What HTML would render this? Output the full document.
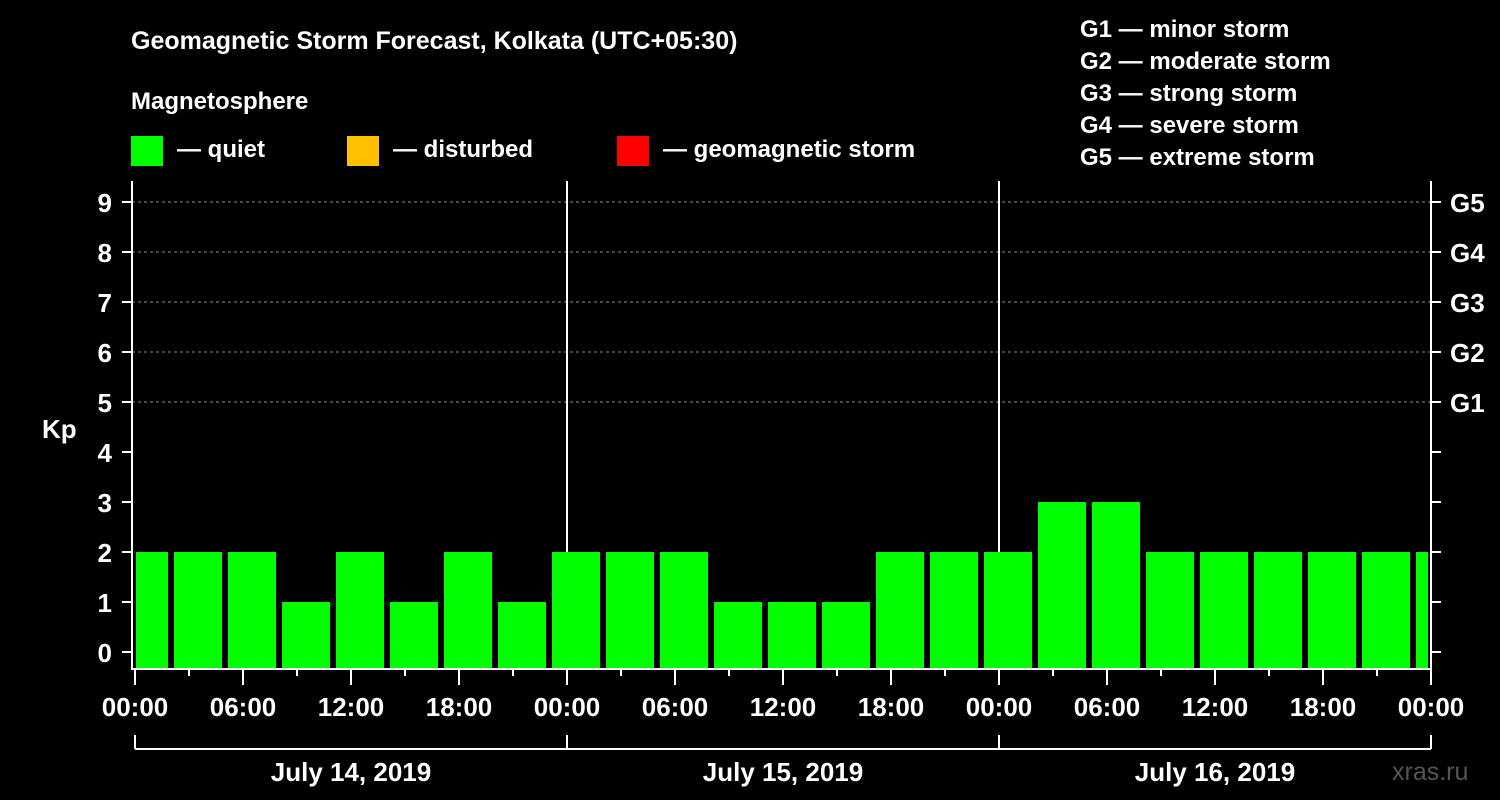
<!DOCTYPE html>
<html><head><meta charset="utf-8"><style>
body{margin:0;background:#000;}
svg{display:block;font-family:"Liberation Sans",Arial,sans-serif;font-weight:bold;}
</style></head><body>
<svg id="chart" width="1500" height="800" viewBox="0 0 1500 800">
<rect width="1500" height="800" fill="#000"/>
<text x="131" y="49" fill="#fff" font-size="25">Geomagnetic Storm Forecast, Kolkata (UTC+05:30)</text>
<text x="131" y="109" fill="#fff" font-size="24">Magnetosphere</text>
<g><rect x="131" y="136" width="32" height="30" fill="#00ff00"/><text x="177" y="157" fill="#fff" font-size="24">— quiet</text></g>
<g><rect x="347" y="136" width="32" height="30" fill="#ffc000"/><text x="393" y="157" fill="#fff" font-size="24">— disturbed</text></g>
<g><rect x="617" y="136" width="32" height="30" fill="#ff0000"/><text x="663" y="157" fill="#fff" font-size="24">— geomagnetic storm</text></g>
<g fill="#fff" font-size="24">
<text x="1080" y="37">G1 — minor storm</text><text x="1080" y="69">G2 — moderate storm</text><text x="1080" y="101">G3 — strong storm</text><text x="1080" y="133">G4 — severe storm</text><text x="1080" y="165">G5 — extreme storm</text>
</g>
<text x="42" y="438" fill="#fff" font-size="26">Kp</text>
<text x="1392" y="780" fill="#555" font-size="25" font-weight="normal">xras.ru</text>
<g id="grid"></g><g id="bars"></g><g id="axes"></g>
</svg>
<script>
const kpValues=[2,2,2,1,2,1,2,1,2,2,2,1,1,1,2,2,2,3,3,2,2,2,2,2,2];
const yTicks=[0,1,2,3,4,5,6,7,8,9];
const gLabels=["G1","G2","G3","G4","G5"];
const gLevels=[5,6,7,8,9];
const xTickLabels=["00:00","06:00","12:00","18:00","00:00","06:00","12:00","18:00","00:00","06:00","12:00","18:00","00:00"];
const dateLabels=["July 14, 2019","July 15, 2019","July 16, 2019"];
const firstBarStartHour=-1; // hours relative to 00:00 of first day
const barHours=3;
const NS="http://www.w3.org/2000/svg";
const X0=135,PXH=18,Y0=652,PXK=50,LEFT=132,RIGHT=1431,TOP=181,BOT=669;
const xs=h=>X0+h*PXH, ys=v=>Y0-v*PXK;
function mk(tag,attrs,parent,text){const e=document.createElementNS(NS,tag);for(const k in attrs)e.setAttribute(k,attrs[k]);if(text!==undefined)e.textContent=text;parent.appendChild(e);return e;}
const grid=document.getElementById('grid'),bars=document.getElementById('bars'),axes=document.getElementById('axes');
gLevels.forEach((lv,i)=>{
 const l=mk('line',{x1:LEFT,x2:RIGHT,y1:ys(lv),y2:ys(lv),stroke:'#888','stroke-dasharray':'3,3','stroke-width':1},grid);
 
 
 const t=mk('text',{x:1450,y:ys(lv)+10,fill:'#fff','font-size':26},axes,gLabels[i]);
 
 
});
[1,2].forEach(d=>{
 const l=mk('line',{x1:xs(24*d),x2:xs(24*d),y1:TOP,y2:BOT,stroke:'#fff','stroke-width':2},grid);
 
 
});
kpValues.forEach((v,i)=>{
 let a=xs(firstBarStartHour+i*barHours)+3, b=xs(firstBarStartHour+(i+1)*barHours)-3;
 a=Math.max(a,LEFT+4); b=Math.min(b,RIGHT-3);
 const r=mk('rect',{x:a,y:ys(v),width:b-a,height:BOT-ys(v),fill:'#00ff00'},bars);
 
 
});
mk('polyline',{points:`${LEFT},${TOP} ${LEFT},${BOT} ${RIGHT},${BOT} ${RIGHT},${TOP}`,fill:'none',stroke:'#fff','stroke-width':2},axes);
yTicks.forEach(v=>{
 mk('line',{x1:LEFT-10,x2:LEFT,y1:ys(v),y2:ys(v),stroke:'#fff','stroke-width':2},axes);
 mk('line',{x1:RIGHT,x2:RIGHT+10,y1:ys(v),y2:ys(v),stroke:'#fff','stroke-width':2},axes);
 const t=mk('text',{x:112,y:ys(v)+10,fill:'#fff','font-size':26,'text-anchor':'end'},axes,String(v));
 
 
});
for(let h=0;h<=72;h+=3){
 mk('line',{x1:xs(h),x2:xs(h),y1:BOT,y2:BOT+(h%6===0?16:7),stroke:'#fff','stroke-width':2},axes);
}
xTickLabels.forEach((lb,i)=>{
 const t=mk('text',{x:xs(i*6),y:716,fill:'#fff','font-size':26,'text-anchor':'middle'},axes,lb);
 
 
});
mk('line',{x1:xs(0),x2:xs(72),y1:749,y2:749,stroke:'#fff','stroke-width':2},axes);
for(let d=0;d<=3;d++) mk('line',{x1:xs(24*d),x2:xs(24*d),y1:735,y2:749,stroke:'#fff','stroke-width':2},axes);
dateLabels.forEach((lb,i)=>{
 const t=mk('text',{x:xs(24*i+12),y:781,fill:'#fff','font-size':26,'text-anchor':'middle'},axes,lb);
 
 
});
</script>
</body></html>
